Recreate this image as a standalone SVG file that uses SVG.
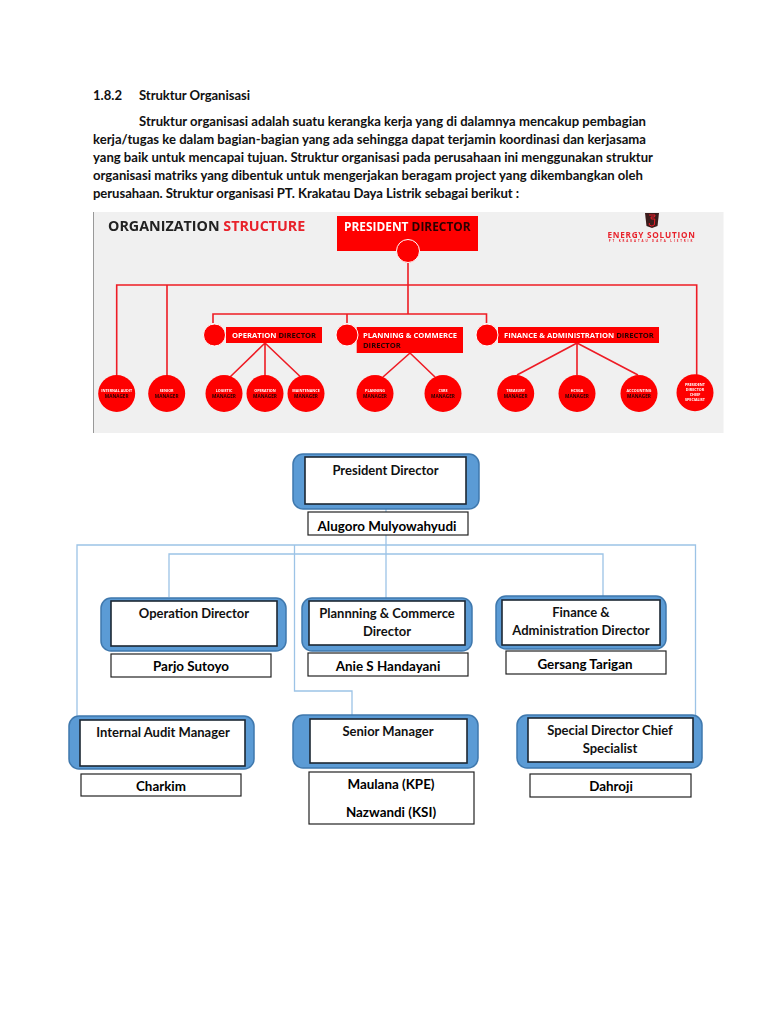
<svg xmlns="http://www.w3.org/2000/svg" width="768" height="1024" viewBox="0 0 768 1024">
<style>
text{font-family:"Lato","Carlito","Open Sans",sans-serif;font-weight:700}
.b{font-size:13.1px;fill:#111}
.c{font-size:13px;text-anchor:middle;fill:#111}
.p{font-size:13.4px;text-anchor:middle;fill:#000}
.o{fill:#5b9bd5;stroke:#3f78ad;stroke-width:1.5}
.i{fill:#fff;stroke:#1c2733;stroke-width:1.6}
.n{fill:#fff;stroke:#222;stroke-width:1.2}
.cn{fill:none;stroke:#9cc3e6;stroke-width:1.3}
.r{fill:none;stroke:#ee1c25;stroke-width:1.6}
.rf{fill:#fe0000}
.ws{fill:#fe0000;stroke:#fff;stroke-width:1}
.h{font-family:"Open Sans",sans-serif;font-weight:700}
.w{fill:#fff}
.d{fill:#2a0404}
.e{fill:#e8202a}
.k{fill:#222}
.t{font-family:"Open Sans",sans-serif;font-weight:700;font-size:3.7px;text-anchor:middle;fill:#fff}
.m{font-family:"Open Sans",sans-serif;font-weight:700;font-size:4.7px;text-anchor:middle;fill:#200}
</style>
<defs>
<filter id="soft" x="-2%" y="-2%" width="104%" height="104%"><feGaussianBlur stdDeviation="0.3"/></filter>
<clipPath id="c1"><rect x="308" y="512" width="160" height="22"/></clipPath>
<clipPath id="c2"><rect x="111" y="654" width="160" height="22.5"/></clipPath>
<clipPath id="c3"><rect x="308" y="653" width="160" height="22.5"/></clipPath>
<clipPath id="c4"><rect x="506" y="651" width="160" height="21.5"/></clipPath>
</defs>
<rect width="768" height="1024" fill="#fff"/>

<g id="page-text">
<text class="b" x="93" y="100">1.8.2</text>
<text class="b" x="139" y="100" textLength="111">Struktur Organisasi</text>
<text class="b" x="139" y="126" textLength="507">Struktur organisasi adalah suatu kerangka kerja yang di dalamnya mencakup pembagian</text>
<text class="b" x="93" y="144" textLength="553">kerja/tugas ke dalam bagian-bagian yang ada sehingga dapat terjamin koordinasi dan kerjasama</text>
<text class="b" x="93" y="162" textLength="560">yang baik untuk mencapai tujuan. Struktur organisasi pada perusahaan ini menggunakan struktur</text>
<text class="b" x="93" y="180" textLength="550">organisasi matriks yang dibentuk untuk mengerjakan beragam project yang dikembangkan oleh</text>
<text class="b" x="93" y="198" textLength="426">perusahaan. Struktur organisasi PT. Krakatau Daya Listrik sebagai berikut :</text>
</g>

<g id="org-image" filter="url(#soft)">
<rect x="93" y="212" width="630.500" height="221" fill="#f0f0f0"/>
<rect x="93" y="212" width="1" height="221" fill="#999"/>
<text class="h k" x="108" y="231" font-size="14.300">ORGANIZATION <tspan class="e">STRUCTURE</tspan></text>
<g id="logo"><path d="M645 213h14l-1.500 13-5.500 2-5.500-2z" fill="#3a1a1a"/><path d="M649 215h6l-.5 2h-3.500l.3 2h3.500l-.5 6-2.500 1-2.500-1v-2" fill="none" stroke="#e8202a" stroke-width="1"/></g>
<text class="h e" x="651.500" y="238" font-size="8.200" letter-spacing=".75" text-anchor="middle">ENERGY  SOLUTION</text>
<text class="h e" x="651.500" y="241.800" font-size="2.900" letter-spacing="1.900" text-anchor="middle">PT KRAKATAU DAYA LISTRIK</text>

<g id="image-connectors">
<path class="r" d="M408 262V314M116.700 376V285H696.700V375M167 285V376M213 323V314H486.500V323M347 314V323"/>
<path class="r" d="M265 343L230 377M265 343V378M265 343L300.700 377M410 353L383 377M410 353L435 377M577 343L517 375M577 343V375M577 343L638 375"/>
</g>
<g id="img-president"><rect class="rf" x="337" y="216" width="141" height="35"/>
<text class="h w" x="344" y="231" font-size="11.900">PRESIDENT <tspan class="d">DIRECTOR</tspan></text>
<circle class="ws" cx="408" cy="251" r="11.500"/></g>
<g id="img-operation"><rect class="rf" x="226" y="327" width="96" height="16"/><circle class="ws" cx="214.500" cy="335" r="11"/>
<text class="h w" x="232" y="338" font-size="7.600">OPERATION <tspan class="d">DIRECTOR</tspan></text></g>
<g id="img-planning"><rect class="rf" x="356.700" y="327" width="106.300" height="26"/><circle class="ws" cx="347" cy="335" r="11"/>
<text class="h w" x="363" y="338" font-size="7.600">PLANNING &amp; COMMERCE</text>
<text class="h d" x="363" y="348" font-size="7.600">DIRECTOR</text></g>
<g id="img-finance"><rect class="rf" x="498" y="327" width="161" height="16"/><circle class="ws" cx="487" cy="335" r="11"/>
<text class="h w" x="504" y="338" font-size="7.600">FINANCE &amp; ADMINISTRATION <tspan class="d">DIRECTOR</tspan></text></g>

<g id="img-internal"><circle class="rf" cx="116.700" cy="393.500" r="18.500"/><text class="t" x="116.700" y="392">INTERNAL AUDIT</text><text class="m" x="116.700" y="397.500">MANAGER</text></g>
<g id="img-senior"><circle class="rf" cx="166.700" cy="393.500" r="18.500"/><text class="t" x="166.700" y="392">SENIOR</text><text class="m" x="166.700" y="397.500">MANAGER</text></g>
<g id="img-logistic"><circle class="rf" cx="224" cy="393.500" r="18.500"/><text class="t" x="224" y="392">LOGISTIC</text><text class="m" x="224" y="397.500">MANAGER</text></g>
<g id="img-opmgr"><circle class="rf" cx="265" cy="393.500" r="18.500"/><text class="t" x="265" y="392">OPERATION</text><text class="m" x="265" y="397.500">MANAGER</text></g>
<g id="img-maint"><circle class="rf" cx="306" cy="393.500" r="18.500"/><text class="t" x="306" y="392">MAINTENANCE</text><text class="m" x="306" y="397.500">MANAGER</text></g>
<g id="img-planmgr"><circle class="rf" cx="375" cy="393.500" r="18.500"/><text class="t" x="375" y="392">PLANNING</text><text class="m" x="375" y="397.500">MANAGER</text></g>
<g id="img-csrs"><circle class="rf" cx="443" cy="393.500" r="18.500"/><text class="t" x="443" y="392">CSRS</text><text class="m" x="443" y="397.500">MANAGER</text></g>
<g id="img-treasury"><circle class="rf" cx="515.700" cy="393.500" r="18.500"/><text class="t" x="515.700" y="392">TREASURY</text><text class="m" x="515.700" y="397.500">MANAGER</text></g>
<g id="img-hcga"><circle class="rf" cx="577" cy="393.500" r="18.500"/><text class="t" x="577" y="392">HCSGA</text><text class="m" x="577" y="397.500">MANAGER</text></g>
<g id="img-accounting"><circle class="rf" cx="639" cy="393.500" r="18.500"/><text class="t" x="639" y="392">ACCOUNTING</text><text class="m" x="639" y="397.500">MANAGER</text></g>
<g id="img-special"><circle class="rf" cx="695" cy="392.700" r="18.500"/><text class="t" x="695" y="386">PRESIDENT</text><text class="t" x="695" y="391">DIRECTOR</text><text class="t" x="695" y="396">CHIEF</text><text class="t" x="695" y="401">SPECIALIST</text></g>
</g>

<g id="connectors">
<path class="cn" d="M77 716V545H695.500V715"/>
<path class="cn" d="M294.500 545V691H352V715"/>
<path class="cn" d="M169 597V554H603V596"/>
<path class="cn" d="M386 509V598"/>
</g>

<g id="president-director">
<rect class="o" x="293" y="454" width="186" height="55" rx="10"/>
<rect class="i" x="305" y="457" width="161" height="47"/>
<text class="c" x="385.500" y="475">President Director</text>
<rect class="n" x="308" y="512" width="160" height="23"/>
<text class="p" x="387" y="531" clip-path="url(#c1)">Alugoro Mulyowahyudi</text>
</g>
<g id="operation-director">
<rect class="o" x="101" y="598" width="185" height="53" rx="10"/>
<rect class="i" x="111" y="601" width="166" height="45"/>
<text class="c" x="194" y="618">Operation Director</text>
<rect class="n" x="111" y="654" width="160" height="23"/>
<text class="p" x="191" y="671" clip-path="url(#c2)">Parjo Sutoyo</text>
</g>
<g id="planning-director">
<rect class="o" x="302" y="598" width="170" height="53" rx="10"/>
<rect class="i" x="309" y="601" width="156" height="44"/>
<text class="c" x="387" y="618">Plannning &amp; Commerce</text>
<text class="c" x="387" y="636">Director</text>
<rect class="n" x="308" y="653" width="160" height="23"/>
<text class="p" x="388" y="671" clip-path="url(#c3)">Anie S Handayani</text>
</g>
<g id="finance-director">
<rect class="o" x="496" y="596" width="170" height="53" rx="10"/>
<rect class="i" x="502" y="600" width="158" height="45"/>
<text class="c" x="581" y="617">Finance &amp;</text>
<text class="c" x="581" y="635">Administration Director</text>
<rect class="n" x="506" y="651" width="160" height="23"/>
<text class="p" x="585" y="669" clip-path="url(#c4)">Gersang Tarigan</text>
</g>
<g id="internal-audit">
<rect class="o" x="69" y="716" width="185" height="53" rx="10"/>
<rect class="i" x="80" y="720" width="165" height="46"/>
<text class="c" x="163" y="737">Internal Audit Manager</text>
<rect class="n" x="81" y="774" width="160" height="22"/>
<text class="p" x="161" y="791">Charkim</text>
</g>
<g id="senior-manager">
<rect class="o" x="293" y="715" width="185" height="53" rx="10"/>
<rect class="i" x="310" y="719" width="157" height="44"/>
<text class="c" x="388" y="736">Senior Manager</text>
<rect class="n" x="309" y="772" width="165" height="52"/>
<text class="p" x="391" y="789">Maulana (KPE)</text>
<text class="p" x="391" y="817">Nazwandi (KSI)</text>
</g>
<g id="special-director">
<rect class="o" x="517" y="715" width="185" height="53" rx="10"/>
<rect class="i" x="528" y="718" width="165" height="44"/>
<text class="c" x="610" y="735">Special Director Chief</text>
<text class="c" x="610" y="753">Specialist</text>
<rect class="n" x="530" y="774" width="161" height="23"/>
<text class="p" x="611" y="791">Dahroji</text>
</g>
</svg>
